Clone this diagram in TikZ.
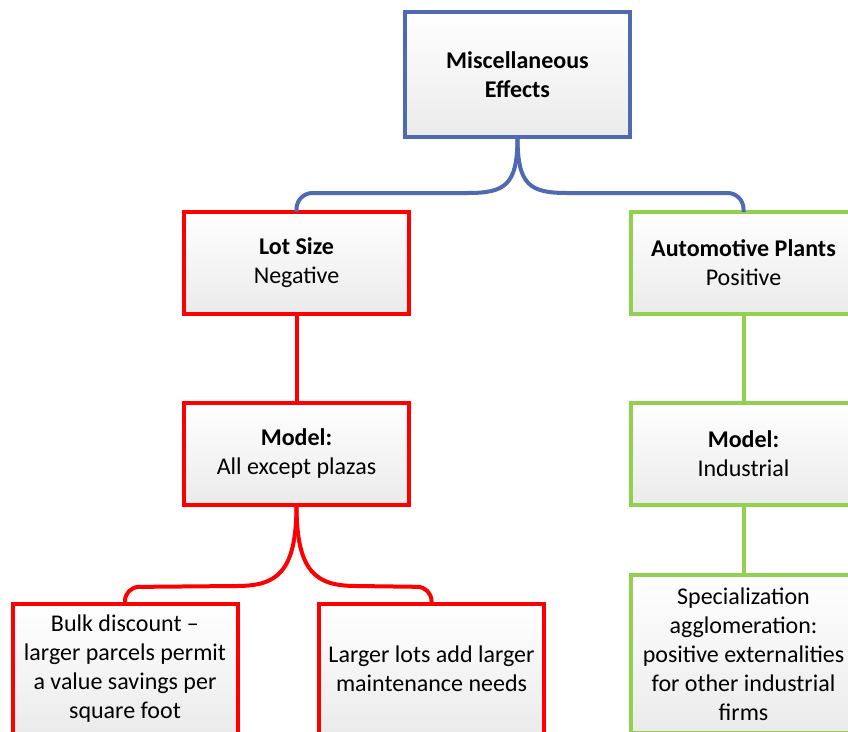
\documentclass[tikz,border=0pt]{standalone}
\usepackage{fontspec}
\setmainfont{Carlito}
\usetikzlibrary{shadows}
\definecolor{frameblue}{RGB}{79,106,178}
\definecolor{framered}{RGB}{255,0,0}
\definecolor{framegreen}{RGB}{146,208,80}
\tikzset{
  card/.style={draw, line width=4pt, rectangle, inner sep=0pt, outer sep=0pt,
    minimum width=225pt, minimum height=102pt, align=center,
    top color=white, bottom color=black!8,
    drop shadow={opacity=0.15, shadow xshift=2pt, shadow yshift=-2pt},
    font=\fontsize{24}{29}\selectfont},
  link/.style={line width=4pt},
}
\begin{document}
\begin{tikzpicture}[x=1pt,y=-1pt]
\useasboundingbox (0,0) rectangle (848,731);

% boxes
\node[card, draw=frameblue, minimum height=125pt] (misc) at (517.5,74.5)
  {\textbf{Miscellaneous}\\\textbf{Effects}};
\node[card, draw=framered] (lot) at (296.5,263) {\textbf{Lot Size}\\Negative};
\node[card, draw=framegreen] (auto) at (743.5,263) {\textbf{Automotive Plants}\\Positive};
\node[card, draw=framered] (mleft) at (296.5,454) {\textbf{Model:}\\All except plazas};
\node[card, draw=framegreen] (mright) at (743.5,454) {\textbf{Model:}\\Industrial};
\node[card, draw=framered, minimum height=130pt, anchor=north] (bulk) at (125,604)
  {Bulk discount –\\larger parcels permit\\a value savings per\\square foot};
\node[card, draw=framered, minimum height=130pt, anchor=north] (maint) at (431.5,604)
  {Larger lots add larger\\maintenance needs};
\node[card, draw=framegreen, minimum height=158pt, anchor=north] (spec) at (743.5,575)
  {Specialization\\agglomeration:\\positive externalities\\for other industrial\\firms};

% connectors from the top box
\draw[link, frameblue] (misc.south) .. controls +(0,48) and +(38,0) .. ++(-50,56)
  [rounded corners=16pt] -- (lot.north |- 0,193) -- (lot.north);
\draw[link, frameblue] (misc.south) .. controls +(0,48) and +(-38,0) .. ++(50,56)
  [rounded corners=16pt] -- (auto.north |- 0,193) -- (auto.north);

% vertical links
\draw[link, framered] (lot.south) -- (mleft.north);
\draw[link, framegreen] (auto.south) -- (mright.north);
\draw[link, framegreen] (mright.south) -- (spec.north);

% connectors from the left model box
\draw[link, framered] (mleft.south) .. controls +(0,68) and +(40,0) .. ++(-60,81)
  [rounded corners=14pt] -- (bulk.north |- 0,587) -- (bulk.north);
\draw[link, framered] (mleft.south) .. controls +(0,68) and +(-40,0) .. ++(60,81)
  [rounded corners=14pt] -- (maint.north |- 0,587) -- (maint.north);
\end{tikzpicture}
\end{document}
